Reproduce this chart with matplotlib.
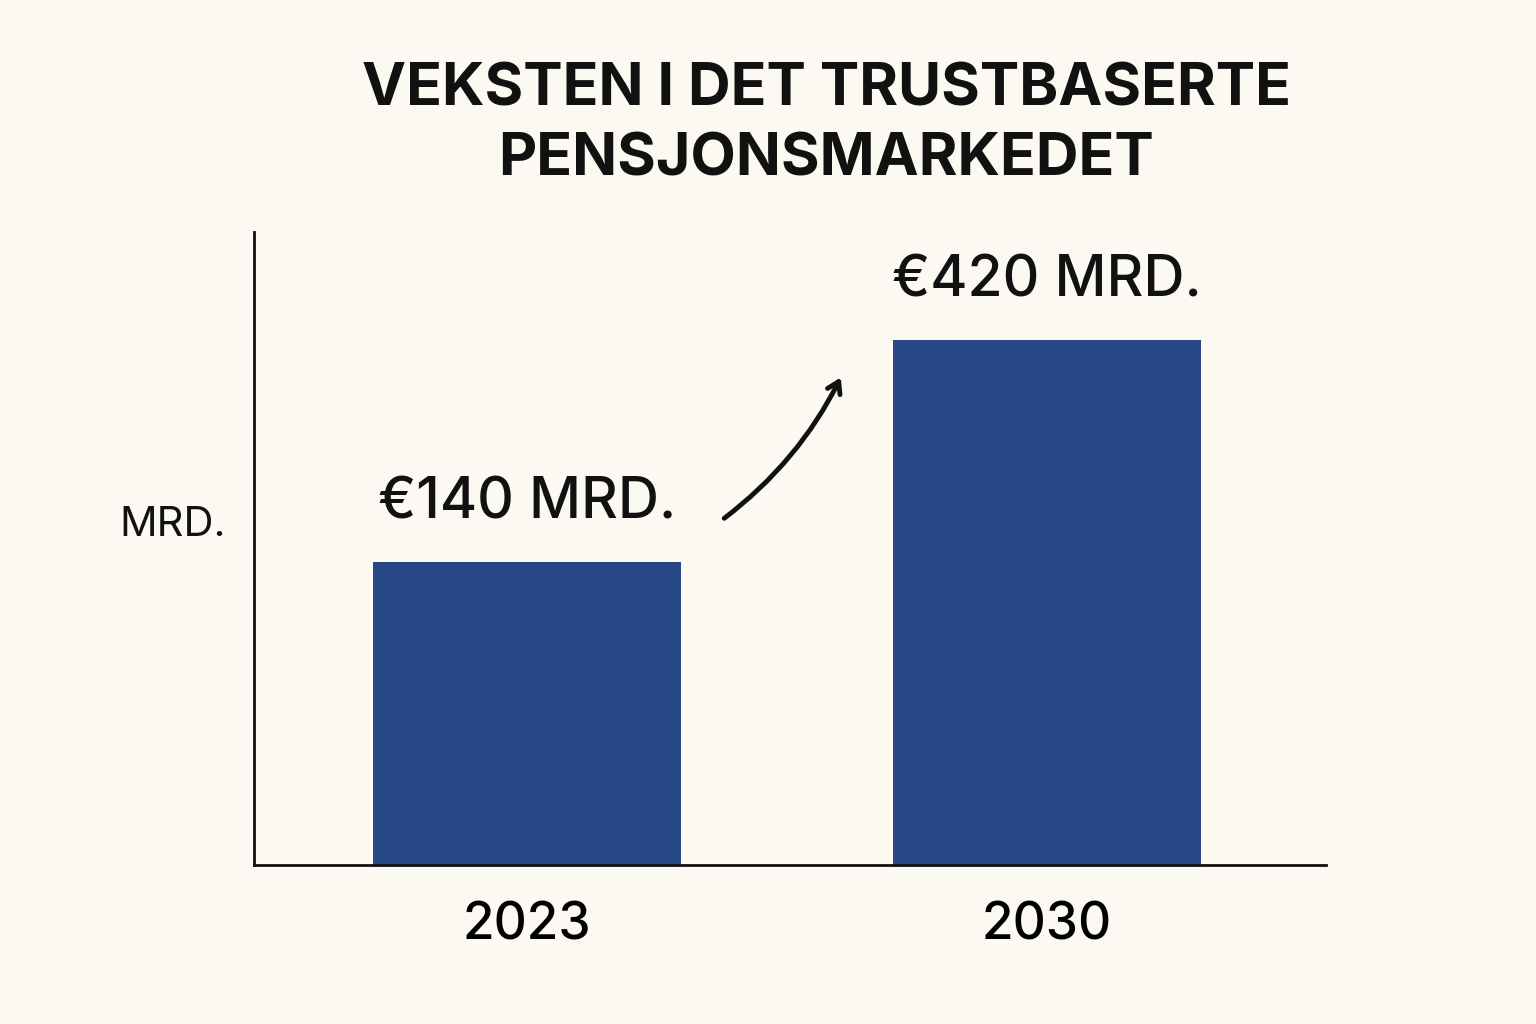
import numpy as np
import matplotlib
matplotlib.use("Agg")
import matplotlib.pyplot as plt

years = ["2023", "2030"]
values = [140, 420]
value_labels = ["€140 MRD.", "€420 MRD."]
title = "VEKSTEN I DET TRUSTBASERTE\nPENSJONSMARKEDET"
ylabel = "MRD."

bg = "#fcf9f2"
bar_color = "#284785"

fig = plt.figure(figsize=(15.36, 10.24), dpi=100, facecolor=bg)
ax = fig.add_axes([0.1654, 0.1553, 0.698, 0.618], facecolor=bg)
ax.set_yscale("function", functions=(np.sqrt, np.square))
x = np.arange(len(years))
ax.bar(x, values, width=0.594, color=bar_color)
ax.set_xlim(-0.525, 1.537)
ax.set_ylim(0, 610)
for s in ["top", "right"]:
    ax.spines[s].set_visible(False)
for s in ["left", "bottom"]:
    ax.spines[s].set_linewidth(2)
    ax.spines[s].set_color("#111111")
ax.set_yticks([])
ax.yaxis.set_minor_locator(matplotlib.ticker.NullLocator())
ax.set_xticks(x)
ax.set_xticklabels(years, fontsize=37, fontweight="medium", fontfamily="Inter")
ax.tick_params(axis="x", length=0, pad=26)

for xi, v, lab in zip(x, values, value_labels):
    ax.annotate(lab, (xi, v), xytext=(0, 42), textcoords="offset points",
                ha="center", va="center", fontsize=41, fontfamily="Inter",
                fontweight="medium", color="#111111")

fig.text(173/1536, 1 - 525/1024, ylabel, ha="center", va="center",
         fontsize=30, fontfamily="Inter", color="#111111")
fig.text(826/1536, 1 - 125/1024, title, ha="center", va="center",
         fontsize=42.5, fontweight="bold", fontfamily="Inter", color="#111111",
         linespacing=1.35)

ax.annotate("", xy=(842/1536, 1 - 375/1024), xytext=(722/1536, 1 - 520/1024),
            xycoords="figure fraction", textcoords="figure fraction",
            arrowprops=dict(arrowstyle="->,head_length=0.8,head_width=0.5", lw=3.5,
                            color="#111111", connectionstyle="arc3,rad=0.12"))

fig.savefig("out.png", dpi=100, facecolor=bg)
